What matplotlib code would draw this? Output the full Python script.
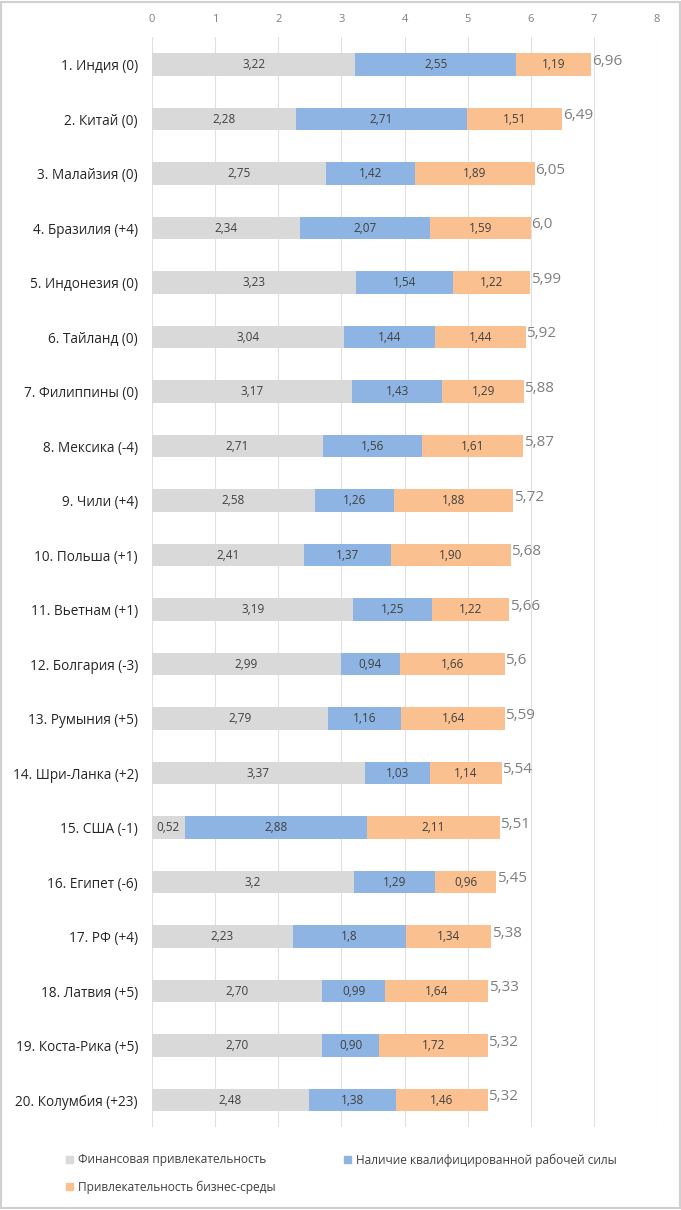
import matplotlib
matplotlib.use("Agg")
import matplotlib.pyplot as plt
from matplotlib.patches import Rectangle, Patch
import numpy as np

plt.rcParams['font.family'] = ['Open Sans', 'DejaVu Sans']

countries = ["1. Индия (0)", "2. Китай (0)", "3. Малайзия (0)", "4. Бразилия (+4)",
             "5. Индонезия (0)", "6. Тайланд (0)", "7. Филиппины (0)", "8. Мексика (-4)",
             "9. Чили (+4)", "10. Польша (+1)", "11. Вьетнам (+1)", "12. Болгария (-3)",
             "13. Румыния (+5)", "14. Шри-Ланка (+2)", "15. США (-1)", "16. Египет (-6)",
             "17. РФ (+4)", "18. Латвия (+5)", "19. Коста-Рика (+5)", "20. Колумбия (+23)"]
financial = [3.22, 2.28, 2.75, 2.34, 3.23, 3.04, 3.17, 2.71, 2.58, 2.41,
             3.19, 2.99, 2.79, 3.37, 0.52, 3.2, 2.23, 2.70, 2.70, 2.48]
workforce = [2.55, 2.71, 1.42, 2.07, 1.54, 1.44, 1.43, 1.56, 1.26, 1.37,
             1.25, 0.94, 1.16, 1.03, 2.88, 1.29, 1.8, 0.99, 0.90, 1.38]
business = [1.19, 1.51, 1.89, 1.59, 1.22, 1.44, 1.29, 1.61, 1.88, 1.90,
            1.22, 1.66, 1.64, 1.14, 2.11, 0.96, 1.34, 1.64, 1.72, 1.46]
financial_lbl = ["3,22", "2,28", "2,75", "2,34", "3,23", "3,04", "3,17", "2,71", "2,58", "2,41",
                 "3,19", "2,99", "2,79", "3,37", "0,52", "3,2", "2,23", "2,70", "2,70", "2,48"]
workforce_lbl = ["2,55", "2,71", "1,42", "2,07", "1,54", "1,44", "1,43", "1,56", "1,26", "1,37",
                 "1,25", "0,94", "1,16", "1,03", "2,88", "1,29", "1,8", "0,99", "0,90", "1,38"]
business_lbl = ["1,19", "1,51", "1,89", "1,59", "1,22", "1,44", "1,29", "1,61", "1,88", "1,90",
                "1,22", "1,66", "1,64", "1,14", "2,11", "0,96", "1,34", "1,64", "1,72", "1,46"]
total_lbl = ["6,96", "6,49", "6,05", "6,0", "5,99", "5,92", "5,88", "5,87", "5,72", "5,68",
             "5,66", "5,6", "5,59", "5,54", "5,51", "5,45", "5,38", "5,33", "5,32", "5,32"]
series_names = ["Финансовая привлекательность", "Наличие квалифицированной рабочей силы",
                "Привлекательность бизнес-среды"]
xticks = [0, 1, 2, 3, 4, 5, 6, 7, 8]

colors = ["#D9D9D9", "#8DB4E2", "#FAC090"]

W, H = 681, 1210
fig = plt.figure(figsize=(W / 100, H / 100), dpi=100)
ax = fig.add_axes([152 / W, 1 - 1127 / H, (657 - 152) / W, (1127 - 37) / H])

y = np.arange(len(countries))
fin = np.array(financial)
wf = np.array(workforce)
bs = np.array(business)
h = 0.42
ax.barh(y, fin, height=h, color=colors[0], label=series_names[0], zorder=2)
ax.barh(y, wf, left=fin, height=h, color=colors[1], label=series_names[1], zorder=2)
ax.barh(y, bs, left=fin + wf, height=h, color=colors[2], label=series_names[2], zorder=2)

seg_fs = 8.5
for i in range(len(countries)):
    ax.text(fin[i] / 2, y[i], financial_lbl[i], ha='center', va='center', fontsize=seg_fs, color='#404040', zorder=3)
    ax.text(fin[i] + wf[i] / 2, y[i], workforce_lbl[i], ha='center', va='center', fontsize=seg_fs, color='#404040', zorder=3)
    ax.text(fin[i] + wf[i] + bs[i] / 2, y[i], business_lbl[i], ha='center', va='center', fontsize=seg_fs, color='#404040', zorder=3)
    ax.text(fin[i] + wf[i] + bs[i] + 0.01, y[i] - 0.06, total_lbl[i], ha='left', va='center', fontsize=11, color='#7F7F7F', zorder=3)

ax.set_xlim(0, 8)
ax.set_ylim(19.495, -0.505)
ax.set_xticks(xticks)
ax.set_xticklabels([str(t) for t in xticks])
ax.xaxis.tick_top()
ax.tick_params(axis='x', length=0, labelsize=8, labelcolor='#808080', pad=9)
ax.set_yticks(y)
ax.set_yticklabels(countries)
ax.tick_params(axis='y', length=0, labelsize=9.8, labelcolor='#262626', pad=10)
ax.grid(axis='x', color='#E0E0E0', linewidth=0.8, zorder=0)
for s in ax.spines.values():
    s.set_visible(False)

handles = [Patch(color=c) for c in colors]
leg_kw = dict(loc='center left', frameon=False, fontsize=8.6, handlelength=0.55, handleheight=0.55,
              handletextpad=0.45, borderpad=0, borderaxespad=0, labelcolor='#404040')
fig.legend([handles[0]], [series_names[0]], bbox_to_anchor=(66 / W, 1 - 1160 / H), **leg_kw)
fig.legend([handles[2]], [series_names[2]], bbox_to_anchor=(66 / W, 1 - 1187 / H), **leg_kw)
fig.legend([handles[1]], [series_names[1]], bbox_to_anchor=(344 / W, 1 - 1160 / H), **leg_kw)

fig.patches.append(Rectangle((0.002, 0.002), 0.996, 0.996, transform=fig.transFigure,
                             fill=False, edgecolor='#D0D0D0', linewidth=1.5))

fig.savefig("out.png", dpi=100)
